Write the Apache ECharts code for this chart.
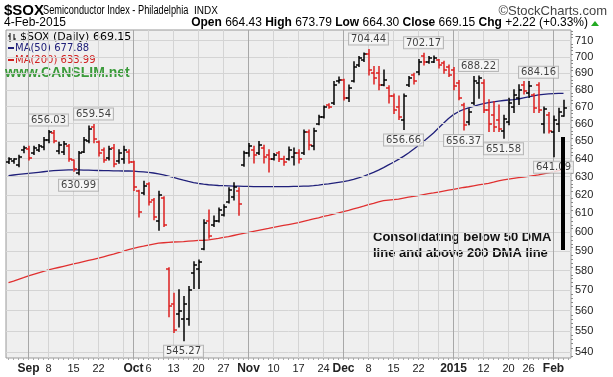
<!DOCTYPE html>
<html><head><meta charset="utf-8">
<script src="https://cdn.jsdelivr.net/npm/echarts@6/dist/echarts.min.js"></script>
<style>html,body{margin:0;padding:0;background:#fff}#c{width:613px;height:377px}</style>
</head><body><div id="c"></div>
<script>
// ---------- DATA ----------
const dates = [
'2014-08-26','2014-08-27','2014-08-28','2014-08-29',
'2014-09-02','2014-09-03','2014-09-04','2014-09-05','2014-09-08','2014-09-09','2014-09-10','2014-09-11','2014-09-12',
'2014-09-15','2014-09-16','2014-09-17','2014-09-18','2014-09-19','2014-09-22','2014-09-23','2014-09-24','2014-09-25','2014-09-26','2014-09-29','2014-09-30',
'2014-10-01','2014-10-02','2014-10-03','2014-10-06','2014-10-07','2014-10-08','2014-10-09','2014-10-10','2014-10-13','2014-10-14','2014-10-15','2014-10-16','2014-10-17',
'2014-10-20','2014-10-21','2014-10-22','2014-10-23','2014-10-24','2014-10-27','2014-10-28','2014-10-29','2014-10-30','2014-10-31',
'2014-11-03','2014-11-04','2014-11-05','2014-11-06','2014-11-07','2014-11-10','2014-11-11','2014-11-12','2014-11-13','2014-11-14',
'2014-11-17','2014-11-18','2014-11-19','2014-11-20','2014-11-21','2014-11-24','2014-11-25','2014-11-26','2014-11-28',
'2014-12-01','2014-12-02','2014-12-03','2014-12-04','2014-12-05','2014-12-08','2014-12-09','2014-12-10','2014-12-11','2014-12-12',
'2014-12-15','2014-12-16','2014-12-17','2014-12-18','2014-12-19','2014-12-22','2014-12-23','2014-12-24','2014-12-26','2014-12-29','2014-12-30','2014-12-31',
'2015-01-02','2015-01-05','2015-01-06','2015-01-07','2015-01-08','2015-01-09','2015-01-12','2015-01-13','2015-01-14','2015-01-15','2015-01-16',
'2015-01-20','2015-01-21','2015-01-22','2015-01-23','2015-01-26','2015-01-27','2015-01-28','2015-01-29','2015-01-30',
'2015-02-02','2015-02-03','2015-02-04'];

const openP = [638.0,638.6,636.5,645.0,645.2,643.0,645.0,646.5,650.5,654.5,644.5,643.5,647.0,639.0,632.0,644.0,650.0,658.0,649.5,645.0,640.5,646.0,638.5,640.0,644.0,
638.0,622.0,621.0,626.0,617.0,606.0,618.5,581.0,563.0,558.5,556.0,556.0,579.0,581.0,591.0,606.0,604.0,606.0,609.0,616.0,619.0,622.0,636.5,
643.0,645.0,643.0,646.0,642.0,640.0,643.0,640.0,640.0,641.0,643.0,643.0,655.0,647.0,660.0,664.0,671.0,672.0,685.0,
686.0,675.0,685.0,695.0,698.0,702.0,690.0,690.0,683.0,681.0,676.0,670.0,662.0,683.0,689.0,691.0,700.5,697.0,697.0,698.0,696.0,694.0,
692.0,684.0,671.0,661.0,672.0,684.0,684.0,668.0,665.0,662.0,656.0,661.0,670.0,675.0,683.0,678.0,677.0,683.0,660.0,665.0,655.0,660.0,664.43];
const highP = [640.5,640.0,642.0,647.0,647.0,647.0,648.0,652.0,656.03,656.0,649.3,649.8,648.0,639.3,644.0,652.0,658.6,659.54,650.0,646.0,647.0,648.0,645.0,647.0,645.0,
638.5,622.5,627.5,626.6,618.0,622.0,619.0,581.5,568.6,570.3,567.0,572.0,584.5,585.5,606.5,611.8,608.5,612.9,614.6,623.8,626.6,623.8,644.2,
648.6,647.0,649.7,647.6,645.0,643.0,644.0,641.4,646.6,646.0,645.0,656.4,656.4,657.4,664.9,670.3,671.7,684.9,687.7,
686.3,682.9,697.0,700.2,702.3,704.44,694.0,694.0,692.0,682.4,677.4,676.3,677.4,688.0,690.0,698.3,702.17,700.2,700.5,698.3,697.3,695.0,
693.5,685.5,672.0,668.7,688.0,688.22,686.0,674.0,673.0,671.0,665.0,675.0,680.0,683.0,685.0,685.0,677.6,684.16,669.7,666.5,664.5,669.0,673.79];
const lowP = [637.3,637.5,635.5,643.4,639.3,642.3,644.0,645.0,649.0,649.0,642.8,642.3,638.5,633.0,630.99,643.5,649.0,649.0,641.5,638.0,639.3,635.5,637.5,637.5,637.5,
622.3,608.0,620.0,614.5,606.5,601.0,603.0,557.0,549.3,552.0,545.27,552.8,571.0,571.0,590.7,596.8,603.0,605.4,608.5,615.5,617.2,609.0,635.7,
641.4,637.6,642.3,637.6,632.6,639.3,638.4,636.3,639.3,636.4,637.6,642.3,645.0,645.0,659.4,663.3,669.1,671.2,684.1,
673.9,673.0,684.6,694.0,697.1,688.9,683.4,680.0,682.4,672.2,665.9,662.4,656.66,682.0,683.4,689.0,695.0,696.0,696.5,693.1,690.0,688.0,
680.0,674.0,656.37,659.4,671.2,675.0,666.5,655.5,655.5,655.5,651.58,659.4,666.5,671.2,677.4,675.4,666.5,666.5,654.6,654.6,641.09,655.5,664.30];
const closeP = [639.6,639.8,641.0,645.8,640.5,646.0,647.2,650.5,655.0,650.0,647.5,648.5,640.0,634.0,643.0,650.5,657.0,651.0,643.0,639.0,645.5,637.0,643.0,645.0,638.0,
624.0,610.5,625.0,616.0,608.0,620.0,604.0,562.0,550.5,560.0,563.0,570.0,583.0,584.5,605.0,598.0,606.0,612.0,613.5,622.5,624.0,615.0,643.0,
647.0,642.0,647.5,641.0,640.0,642.0,640.0,638.0,645.0,643.0,640.0,655.0,648.0,656.0,664.0,669.5,670.0,683.0,686.0,
675.0,681.0,694.0,699.0,701.5,692.0,687.0,683.0,686.0,676.0,668.0,664.0,676.0,687.0,685.0,697.0,697.0,699.0,699.5,695.0,692.0,689.0,
682.0,675.0,659.0,667.0,685.0,687.0,668.0,660.0,658.0,657.0,663.0,672.0,677.0,680.0,679.0,682.0,669.0,668.0,668.5,656.0,662.0,666.93,669.15];

const ma50 = [630.6,630.9,631.2,631.5,631.8,632.1,632.4,632.7,633.0,633.3,633.5,633.6,633.7,633.7,633.7,633.6,633.6,633.5,633.4,633.3,633.3,633.2,633.2,633.1,633.1,
633.0,632.8,632.6,632.3,632.0,631.5,631.0,630.3,629.6,628.8,628.0,627.3,626.7,626.2,625.8,625.5,625.3,625.1,625.0,624.9,624.8,624.7,624.6,
624.6,624.5,624.5,624.5,624.5,624.5,624.5,624.5,624.5,624.6,624.6,624.7,624.8,625.0,625.3,625.7,626.0,626.4,626.8,
627.2,627.8,628.5,629.3,630.2,631.2,632.3,633.6,635.0,636.5,638.0,639.6,641.3,643.2,645.3,647.5,649.8,652.2,654.6,657.5,660.3,663.0,
665.3,667.0,668.3,669.3,670.2,671.0,671.7,672.3,672.8,673.3,673.6,673.9,674.1,674.5,675.2,675.8,676.4,677.0,677.3,677.5,677.7,677.8,677.88];
const ma200 = [573.9,574.7,575.6,576.4,577.3,578.1,578.9,579.6,580.4,581.0,581.6,582.2,582.8,583.4,584.0,584.6,585.2,585.8,586.4,587.1,587.8,588.5,589.3,590.0,590.8,
591.5,592.1,592.6,593.2,593.7,594.2,594.4,594.6,594.8,594.9,595.0,595.2,595.4,595.6,595.7,595.9,596.3,596.7,597.2,597.6,598.2,598.8,599.3,
599.9,600.4,600.9,601.4,601.9,602.5,603.0,603.5,604.0,604.5,605.0,605.7,606.3,607.0,607.6,608.3,608.9,609.6,610.2,
610.9,611.6,612.4,613.1,613.8,614.6,615.3,616.1,616.8,617.1,617.4,617.7,618.2,618.7,619.1,619.6,620.1,620.6,621.0,621.5,622.0,622.5,
623.0,623.5,624.0,624.4,624.9,625.4,625.8,626.3,626.9,627.6,628.2,628.6,629.0,629.4,629.7,630.1,630.5,630.9,631.5,632.1,632.7,633.3,633.99];

const yTickValues = [540,550,560,570,580,590,600,610,620,630,640,650,660,670,680,690,700,710];
const yMinorTickValues = [];
for (let v = 538; v <= 716; v += 2) if (v % 10 !== 0) yMinorTickValues.push(v);
const xLabelDates = ['2014-09-02','2014-09-08','2014-09-15','2014-09-22','2014-10-01','2014-10-06','2014-10-13','2014-10-20','2014-10-27',
'2014-11-03','2014-11-10','2014-11-17','2014-11-24','2014-12-01','2014-12-08','2014-12-15','2014-12-22','2015-01-02','2015-01-12','2015-01-20','2015-01-26','2015-02-02'];
const xLabelTexts = ['Sep','8','15','22','Oct','6','13','20','27','Nov','10','17','24','Dec','8','15','22','2015','12','20','26','Feb'];
const peakIdx = [8,17,72,83,94,106];
const troughIdx = [14,35,79,91,99,109];
const lastClose = 669.15, lastMA50 = 677.88, lastMA200 = 633.99;
const Y_MIN = 537.1, Y_MAX = 716.7;

// ---------- BUILD ----------
const cats = dates.concat(['']);
const labelMap = {};
xLabelDates.forEach((d, k) => labelMap[d] = xLabelTexts[k]);
const weekStarts = [], monthStarts = [];
dates.forEach((d, i) => {
  if (i === 0) return;
  const cur = new Date(d + 'T12:00:00Z'), prev = new Date(dates[i-1] + 'T12:00:00Z');
  if (cur.getUTCMonth() !== prev.getUTCMonth()) monthStarts.push(d);
  else if (cur.getUTCDay() < prev.getUTCDay() || (cur - prev) > 3.5*864e5) weekStarts.push(d);
});

const RED = '#dc1f1f', BLACK = '#000';
function renderOHLC(params, api) {
  const i = api.value(0);
  const o = api.coord([i, api.value(1)]);
  const h = api.coord([i, api.value(2)]);
  const l = api.coord([i, api.value(3)]);
  const c = api.coord([i, api.value(4)]);
  const x = Math.round(h[0]);
  const col = api.value(4) >= api.value(1) ? BLACK : RED;
  const st = {stroke: col, lineWidth: 1.5};
  return {type: 'group', children: [
    {type: 'line', shape: {x1: x, y1: h[1] - 0.5, x2: x, y2: l[1] + 0.5}, style: st},
    {type: 'line', shape: {x1: x - 3, y1: Math.round(o[1]), x2: x, y2: Math.round(o[1])}, style: st},
    {type: 'line', shape: {x1: x, y1: Math.round(c[1]), x2: x + 3, y2: Math.round(c[1])}, style: st}
  ]};
}
function renderMinorTick(params, api) {
  const p = api.coord([0, api.value(0)]);
  const xr = params.coordSys.x + params.coordSys.width;
  const y = Math.round(p[1]) + 0.5;
  return {type: 'line', shape: {x1: xr, y1: y, x2: xr + 2, y2: y}, style: {stroke: '#888', lineWidth: 1}};
}

const noteLabel = (pos) => ({show: true, position: pos, distance: 5, fontFamily: 'DejaVu Sans', fontSize: 10, color: '#111',
  backgroundColor: '#f7f7f7', borderColor: '#aaa', borderWidth: 1, padding: [1, 2, 0, 2], formatter: p => p.value[1].toFixed(2)});

const chart = echarts.init(document.getElementById('c'), null, {renderer: 'canvas'});
chart.setOption({
  animation: false,
  grid: {left: 6, right: 42, top: 30, bottom: 19, show: true, backgroundColor: '#efefef', borderColor: '#999', borderWidth: 1},
  xAxis: {
    type: 'category', data: cats, boundaryGap: true,
    axisLine: {show: false},
    axisTick: {show: true, interval: 0, length: 2, alignWithLabel: true, lineStyle: {color: '#aaa'}},
    splitLine: {show: false},
    axisLabel: {
      interval: (idx, val) => labelMap[val] !== undefined, margin: 5,
      formatter: (val) => { const t = labelMap[val]; if (t === undefined) return ''; return /^\d{1,2}$/.test(t) ? '{n|' + t + '}' : '{b|' + t + '}'; },
      rich: {n: {fontFamily: 'Arial', fontSize: 11, color: '#222'}, b: {fontFamily: 'Arial', fontSize: 12, fontWeight: 'bold', color: '#222'}}
    }
  },
  yAxis: {type: 'log', logBase: 10, min: Y_MIN, max: Y_MAX, position: 'right',
    axisLine: {show: false}, axisTick: {show: false}, axisLabel: {show: false}, splitLine: {show: false}},
  series: [
    {name: 'grid', type: 'line', data: [], z: 1, silent: true,
      markLine: {silent: true, symbol: 'none', animation: false,
        data: [].concat(
          yTickValues.map(v => ({yAxis: v, lineStyle: {color: '#d4d4d4', width: 1, type: 'solid'},
            label: {show: true, position: 'end', distance: 4, formatter: String(v), fontFamily: 'Arial', fontSize: 11, color: '#222'}})),
          weekStarts.map(d => ({xAxis: d, lineStyle: {color: '#d4d4d4', width: 1, type: 'solid'}, label: {show: false}})),
          monthStarts.map(d => ({xAxis: d, lineStyle: {color: '#a8a8a8', width: 1, type: 'solid'}, label: {show: false}}))
        )}},
    {name: 'minorTicks', type: 'custom', z: 2, silent: true, renderItem: renderMinorTick, encode: {y: 0},
      data: yMinorTickValues.map(v => [v])},
    {name: 'MA200', type: 'line', data: ma200, symbol: 'none', z: 3, lineStyle: {color: '#e03030', width: 1.3}},
    {name: 'MA50', type: 'line', data: ma50, symbol: 'none', z: 3, lineStyle: {color: '#20207a', width: 1.3}},
    {name: 'SOX', type: 'custom', z: 5, renderItem: renderOHLC, encode: {x: 0, y: [1, 2, 3, 4]},
      data: dates.map((d, i) => [i, openP[i], highP[i], lowP[i], closeP[i]])},
    {name: 'peaks', type: 'scatter', z: 6, symbolSize: 0, silent: true,
      data: peakIdx.map(i => [i, highP[i]]), label: noteLabel('top')},
    {name: 'troughs', type: 'scatter', z: 6, symbolSize: 0, silent: true,
      data: troughIdx.map(i => [i, lowP[i]]), label: noteLabel('bottom')},
    {name: 'tags', type: 'line', data: [], z: 8, silent: true,
      markLine: {silent: true, symbol: 'none', animation: false,
        data: [
          {yAxis: lastMA50, lineStyle: {opacity: 0}, label: {show: true, position: 'end', distance: 2, formatter: lastMA50.toFixed(2), fontFamily: 'DejaVu Sans', fontSize: 11, color: '#000', backgroundColor: '#fff', borderColor: '#20207a', borderWidth: 1, padding: [1, 2, 0, 2]}},
          {yAxis: lastClose, lineStyle: {opacity: 0}, label: {show: true, position: 'end', distance: 2, formatter: lastClose.toFixed(2), fontFamily: 'DejaVu Sans', fontSize: 11, fontWeight: 'bold', color: '#000', backgroundColor: '#fff', borderColor: '#000', borderWidth: 1, padding: [1, 2, 0, 2]}},
          {yAxis: lastMA200, lineStyle: {opacity: 0}, label: {show: true, position: 'end', distance: 2, formatter: lastMA200.toFixed(2), fontFamily: 'DejaVu Sans', fontSize: 11, color: '#000', backgroundColor: '#fff', borderColor: '#e03030', borderWidth: 1, padding: [1, 2, 0, 2]}}
        ]}}
  ],
  graphic: [
    {type: 'text', x: 4, y: 11, style: {text: '$SOX', font: 'bold 15px Arial', fill: '#000', textVerticalAlign: 'middle'}},
    {type: 'text', x: 43, y: 11, scaleX: 0.77, style: {text: 'Semiconductor Index - Philadelphia', font: '12px Arial', fill: '#000', textVerticalAlign: 'middle'}},
    {type: 'text', x: 194, y: 11, style: {text: 'INDX', font: '10px Arial', fill: '#000', textVerticalAlign: 'middle'}},
    {type: 'text', x: 607, y: 11, style: {text: '\u00A9StockCharts.com', font: '13px Arial', fill: '#444', textAlign: 'right', textVerticalAlign: 'middle'}},
    {type: 'text', x: 4, y: 23, style: {text: '4-Feb-2015', font: '12px Arial', fill: '#000', textVerticalAlign: 'middle'}},
    {type: 'text', x: 588, y: 23, style: {text: '{b|Open} 664.43 {b|High} 673.79 {b|Low} 664.30 {b|Close} 669.15 {b|Chg} +2.22 (+0.33%)',
      font: '12px Arial', fill: '#000', textAlign: 'right', textVerticalAlign: 'middle', rich: {b: {fontWeight: 'bold', fontSize: 12, fontFamily: 'Arial'}}}},
    {type: 'polygon', shape: {points: [[591, 26], [599, 26], [595, 21]]}, style: {fill: '#22aa22'}},
    // legend
    {type: 'line', shape: {x1: 10, y1: 33, x2: 10, y2: 42}, style: {stroke: '#000', lineWidth: 1}},
    {type: 'line', shape: {x1: 8, y1: 36, x2: 10, y2: 36}, style: {stroke: '#000', lineWidth: 1}},
    {type: 'line', shape: {x1: 14, y1: 34, x2: 14, y2: 41}, style: {stroke: '#000', lineWidth: 1}},
    {type: 'line', shape: {x1: 14, y1: 39, x2: 16, y2: 39}, style: {stroke: '#000', lineWidth: 1}},
    {type: 'text', x: 20, y: 37, style: {text: '$SOX (Daily) 669.15', font: '11px "DejaVu Sans"', fill: '#000', textVerticalAlign: 'middle'}},
    {type: 'rect', shape: {x: 8, y: 47, width: 6, height: 2}, style: {fill: '#20207a'}},
    {type: 'text', x: 15, y: 48, style: {text: 'MA(50) 677.88', font: '10px "DejaVu Sans"', fill: '#20207a', textVerticalAlign: 'middle'}},
    {type: 'rect', shape: {x: 8, y: 59, width: 6, height: 2}, style: {fill: '#d02020'}},
    {type: 'text', x: 15, y: 60, style: {text: 'MA(200) 633.99', font: '10px "DejaVu Sans"', fill: '#d02020', textVerticalAlign: 'middle'}},
    {type: 'text', x: 5, y: 73, style: {text: 'www.CANSLIM.net', font: 'bold 14px Arial', fill: '#3a9a3a', textVerticalAlign: 'middle'}},
    // annotation
    {type: 'text', x: 373, y: 237, style: {text: 'Consolidating below 50 DMA', font: 'bold 13px Arial', fill: '#111', textVerticalAlign: 'middle'}},
    {type: 'text', x: 373, y: 253, style: {text: 'line and above 200 DMA line', font: 'bold 13px Arial', fill: '#111', textVerticalAlign: 'middle'}},
    {type: 'rect', z: 100, shape: {x: 561, y: 137, width: 4, height: 113}, style: {fill: '#000'}}
  ]
});
</script></body></html>
